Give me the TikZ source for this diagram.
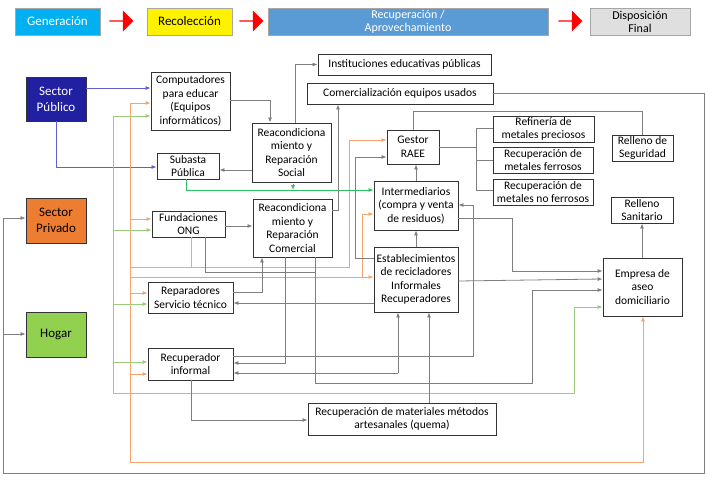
\documentclass[tikz,border=0pt]{standalone}
\usepackage{fontspec}
\setmainfont{Carlito}
\usetikzlibrary{arrows.meta,shapes.arrows}
\definecolor{gl}{HTML}{7F7F7F}
\definecolor{ol}{HTML}{F4A46C}
\definecolor{gr}{HTML}{9BCB7C}
\definecolor{bl}{HTML}{6060D0}
\definecolor{bg}{HTML}{2EC060}
\definecolor{hcy}{HTML}{00B0F0}
\definecolor{hbl}{HTML}{5B9BD5}
\definecolor{cpub}{HTML}{2020A0}
\definecolor{cpri}{HTML}{ED7D31}
\definecolor{chog}{HTML}{92D050}
\tikzset{
 box/.style={draw=black!80,line width=0.9pt,align=center,inner sep=0.5pt,font=\fontsize{11.5}{13.5}\selectfont},
 hd/.style={draw=gray!70,align=center,inner sep=1pt,font=\fontsize{13}{14}\selectfont},
 con/.style={draw=gl,line width=0.8pt},
 ar/.style={-{Latex[length=5pt,width=4pt]}},
 ra/.style={single arrow,fill=red,draw=none,minimum height=24pt,minimum width=21pt,single arrow head extend=3pt,inner sep=0pt}
}
\newcommand\bx[7][]{\node[box,#1,minimum width={(#5-#3)*1pt},minimum height={(#6-#4)*1pt}] (#2) at ({(#3+#5)/2},{(#4+#6)/2}) {#7};}
\begin{document}
\begin{tikzpicture}[x=1pt,y=-1pt]
\useasboundingbox (0,0) rectangle (706,479);
% header
\bx[hd,fill=hcy,text=white]{h1}{15}{8}{100}{35}{Generación}
\node[ra] (a1) at (121,21) {};
\bx[hd,fill=yellow]{h2}{147}{8}{232}{35}{Recolección}
\node[ra] (a2) at (251,21) {};
\bx[hd,fill=hbl,text=white,font=\fontsize{12}{13}\selectfont]{h3}{268}{8}{548}{35}{Recuperación /\\Aprovechamiento}
\node[ra] (a3) at (570,21) {};
\bx[hd,fill=gray!25,font=\fontsize{12}{13}\selectfont]{h4}{590}{8}{690}{35}{Disposición\\Final}
% sectors
\bx[fill=cpub,text=white,font=\fontsize{13}{16}\selectfont]{sp}{26}{77}{86}{121}{Sector\\Público}
\bx[fill=cpri,font=\fontsize{13}{16}\selectfont]{spr}{26}{198}{86}{243}{Sector\\Privado}
\bx[fill=chog,font=\fontsize{13}{16}\selectfont]{hog}{26}{312}{86}{357}{Hogar}
% boxes
\bx{comp}{151}{72}{230}{130}{Computadores\\para educar\\(Equipos\\informáticos)}
\bx{sub}{157}{153}{219}{179}{Subasta\\Pública}
\bx{fun}{152}{211}{225}{237}{Fundaciones\\ONG}
\bx{rep}{148}{282}{233}{313}{Reparadores\\Servicio técnico}
\bx{rin}{148}{348}{233}{380}{Recuperador\\informal}
\bx{rs}{252}{123}{331}{182}{Reacondiciona\\miento y\\Reparación\\Social}
\bx{rc}{253}{199}{332}{257}{Reacondiciona\\miento y\\Reparación\\Comercial}
\bx{ins}{318}{54}{491}{75}{Instituciones educativas públicas}
\bx{com}{307}{83}{493}{104}{Comercialización equipos usados}
\bx{ges}{387}{130}{439}{164}{Gestor\\RAEE}
\bx{int}{374}{181}{458}{230}{Intermediarios\\(compra y venta\\de residuos)}
\bx{est}{374}{247}{458}{312}{Establecimientos\\de recicladores\\Informales\\Recuperadores}
\bx{ref}{493}{116}{594}{142}{Refinería de\\metales preciosos}
\bx{fer}{493}{147}{593}{173}{Recuperación de\\metales ferrosos}
\bx{nfe}{493}{179}{593}{205}{Recuperación de\\metales no ferrosos}
\bx{rsg}{612}{135}{673}{161}{Relleno de\\Seguridad}
\bx{rsa}{611}{197}{673}{223}{Relleno\\Sanitario}
\bx{emp}{603}{258}{682}{316}{Empresa de\\aseo\\domiciliario}
\bx{rma}{308}{403}{496}{435}{Recuperación de materiales métodos\\artesanales (quema)}
% blue
\draw[draw=bl,line width=0.8pt,ar] (sp.east|-0,88) -- (comp.west|-0,88);
\draw[draw=bl,line width=0.8pt,ar] (sp.south) |- (sub.west|-0,167);
% orange
\begin{scope}[draw=ol,line width=0.8pt]
\draw (130,103) -- (130,462);
\draw[ar] (130,103) -- (comp.west|-0,103);
\draw[ar] (130,219) -- (fun.west|-0,219);
\draw[ar] (130,293) -- (rep.west|-0,293);
\draw[ar] (130,374) -- (rin.west|-0,374);
\draw[ar] (130,462) -| (emp.south-|643,0);
\draw (fun.south-|191,0) -- (191,267);
\draw[ar] (130,267) -- (349,267) |- (ges.west|-0,140);
\draw[ar] (130,277) -- (est.west|-0,277);
\draw[ar] (362,277) |- (int.west|-0,214);
\end{scope}
% green
\begin{scope}[draw=gr,line width=0.8pt]
\draw (113,116) -- (113,393);
\draw[ar] (113,116) -- (comp.west|-0,116);
\draw[ar] (113,230) -- (fun.west|-0,230);
\draw[ar] (113,304) -- (rep.west|-0,304);
\draw[ar] (113,362) -- (rin.west|-0,362);
\draw[ar] (113,393) -| (574,307) -- (emp.west|-0,307);
\end{scope}
\draw[draw=bg,line width=0.8pt,ar] (sub.south-|186,0) |- (int.west|-0,190);
\draw[draw=bg,line width=0.8pt,ar] (293,184) -- (293,190);
% gray connectors
\draw[con,ar] (comp.east|-0,100) -| (rs.north-|270,0);
\draw[con,ar] (rs.west|-0,170) -- (sub.east|-0,170);
\draw[con,ar] (rs.north-|295,0) |- (ins.west);
\draw[con,ar] (fun.east|-0,226) -- (rc.west|-0,226);
\draw[con,ar] (rc.east|-0,210) -| (com.south-|338,0);
\draw[con] (fun.south-|205,0) |- (315,272);
\draw[con,ar] (rc.south-|315,0) |- (532,383) |- (emp.west|-0,290);
\draw[con,ar] (rc.south-|285,0) |- (rin.east|-0,363);
\draw[con,ar] (rep.east|-0,292) -| (rc.south-|262,0);
\draw[con,ar] (est.west|-0,303) -- (rep.east|-0,303);
\draw[con,ar] (rin.east|-0,356) -| (473,205) -- (int.east|-0,205);
\draw[con,ar] (398,373) -- (est.south-|398,0);
\draw[con,ar] (398,373) -- (rin.east|-0,373);
\draw[con,ar] (rin.south-|191,0) |- (rma.west|-0,420);
\draw[con,ar] (rma.north-|429,0) -- (est.south-|429,0);
\draw[con,ar] (est.north-|416,0) -- (int.south-|416,0);
\draw[con,ar] (int.north-|416,0) -- (ges.south-|416,0);
\draw[con,ar] (est.west|-0,258) -| (355,157) -- (ges.west|-0,157);
\draw[con] (ges.north-|413,0) |- (642,111) -- (rsg.north-|642,0);
\draw[con] (ges.east|-0,147) -- (476,147);
\draw[con] (ref.west|-0,128) -| (476,190) -- (nfe.west|-0,190);
\draw[con] (476,160) -- (fer.west|-0,160);
\draw[con,ar] (int.east|-0,218) -| (512,271) -- (emp.west|-0,271);
\draw[con,ar] (est.east|-0,281) -- (emp.west|-0,279);
\draw[con,ar] (emp.north-|642,0) -- (rsa.south-|642,0);
\draw[con,ar] (com.east|-0,93) -| (704,473) -| (3,218) -- (spr.west|-0,218);
\draw[con,ar] (3,334) -- (hog.west|-0,334);
\end{tikzpicture}
\end{document}
